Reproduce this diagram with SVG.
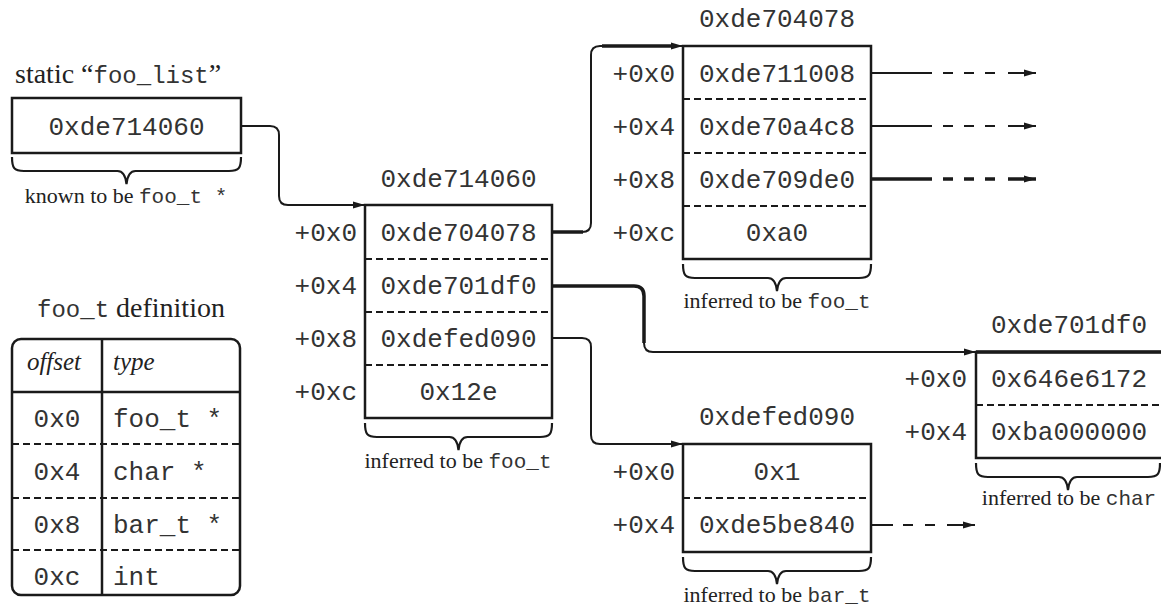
<svg xmlns="http://www.w3.org/2000/svg" width="1161" height="608" viewBox="0 0 1161 608">
<defs>
<style>
.box{fill:none;stroke:#1a1a1a;stroke-width:2.5}
.div{stroke:#1a1a1a;stroke-width:2;stroke-dasharray:7 4}
.sol{stroke:#1a1a1a;stroke-width:2.5}
.mono{font-family:"Liberation Mono","Courier New",monospace;font-size:26px;fill:#333}
.val{text-anchor:middle}
.off{text-anchor:end}
.lbl{font-family:"Liberation Serif","Times New Roman",serif;font-size:22px;fill:#222;text-anchor:middle}
.lm{font-family:"Liberation Mono","Courier New",monospace;font-size:21px;fill:#333}
.ttl{font-family:"Liberation Serif","Times New Roman",serif;font-size:28px;fill:#222}
.tm{font-family:"Liberation Mono","Courier New",monospace;font-size:24px;fill:#333}
.hdr{font-family:"Liberation Serif","Times New Roman",serif;font-size:25px;font-style:italic;fill:#222}
.brace{fill:none;stroke:#1a1a1a;stroke-width:2.2}
.conn{fill:none;stroke:#1a1a1a;stroke-width:2}
.thick{fill:none;stroke:#1a1a1a;stroke-width:3.5}
.arr{marker-end:url(#ah)}
</style>
<marker id="ah" markerUnits="userSpaceOnUse" markerWidth="12" markerHeight="8" viewBox="0 0 12 8" refX="12" refY="4" orient="auto">
<path d="M0,0.5 L12,4 L0,7.5 z" fill="#1a1a1a"/>
</marker>
</defs>
<rect width="1161" height="608" fill="#fff"/>

<g id="foo_list">
<text x="15" y="83" class="ttl">static “<tspan class="tm">foo_list</tspan>”</text>
<rect x="12" y="98" width="229" height="55" class="box"/>
<text x="126.5" y="135" class="mono val">0xde714060</text>
<path class="brace" d="M12,157 C12,168 14,171 24,171 L117.5,171 Q125,171 126.5,184 Q128,171 135.5,171 L229,171 C239,171 241,168 241,157"/>
<text x="126" y="203" class="lbl">known to be <tspan class="lm">foo_t *</tspan></text>
</g>

<g id="foo_t_definition">
<text x="131" y="317" class="ttl" text-anchor="middle"><tspan class="tm" font-size="23px">foo_t</tspan> definition</text>
<rect x="12" y="339" width="228" height="256" rx="9" class="box"/>
<line x1="102" y1="339" x2="102" y2="595" class="sol"/>
<line x1="12" y1="392" x2="240" y2="392" class="sol"/>
<line x1="12" y1="444" x2="240" y2="444" class="div"/>
<line x1="12" y1="498" x2="240" y2="498" class="div"/>
<line x1="12" y1="550" x2="240" y2="550" class="div"/>
<text x="54" y="370" class="hdr" text-anchor="middle">offset</text>
<text x="113" y="370" class="hdr">type</text>
<text x="57" y="427" class="mono val">0x0</text>
<text x="57" y="480" class="mono val">0x4</text>
<text x="57" y="533" class="mono val">0x8</text>
<text x="57" y="585" class="mono val">0xc</text>
<text x="113" y="427" class="mono">foo_t *</text>
<text x="113" y="480" class="mono">char *</text>
<text x="113" y="533" class="mono">bar_t *</text>
<text x="113" y="585" class="mono">int</text>
</g>

<g id="node_0xde714060">
<text x="458.5" y="187" class="mono val">0xde714060</text>
<rect x="365" y="205" width="187" height="213" class="box"/>
<line x1="365" y1="259" x2="552" y2="259" class="div"/>
<line x1="365" y1="312" x2="552" y2="312" class="div"/>
<line x1="365" y1="365" x2="552" y2="365" class="div"/>
<text x="458.5" y="241" class="mono val">0xde704078</text>
<text x="458.5" y="294" class="mono val">0xde701df0</text>
<text x="458.5" y="347" class="mono val">0xdefed090</text>
<text x="458.5" y="400" class="mono val">0x12e</text>
<text x="357" y="241" class="mono off">+0x0</text>
<text x="357" y="294" class="mono off">+0x4</text>
<text x="357" y="347" class="mono off">+0x8</text>
<text x="357" y="400" class="mono off">+0xc</text>
<path class="brace" d="M365,423 C365,434 367,437 377,437 L449.5,437 Q457,437 458.5,450 Q460,437 467.5,437 L540,437 C550,437 552,434 552,423"/>
<text x="458" y="468" class="lbl">inferred to be <tspan class="lm">foo_t</tspan></text>
</g>

<g id="node_0xde704078">
<text x="777" y="27" class="mono val">0xde704078</text>
<rect x="683" y="46" width="188" height="213" class="box"/>
<line x1="683" y1="99" x2="871" y2="99" class="div"/>
<line x1="683" y1="153" x2="871" y2="153" class="div"/>
<line x1="683" y1="206" x2="871" y2="206" class="div"/>
<text x="777" y="82" class="mono val">0xde711008</text>
<text x="777" y="135" class="mono val">0xde70a4c8</text>
<text x="777" y="188" class="mono val">0xde709de0</text>
<text x="777" y="241" class="mono val">0xa0</text>
<text x="675" y="82" class="mono off">+0x0</text>
<text x="675" y="135" class="mono off">+0x4</text>
<text x="675" y="188" class="mono off">+0x8</text>
<text x="675" y="241" class="mono off">+0xc</text>
<path class="brace" d="M683,264 C683,275 685,278 695,278 L768,278 Q775.5,278 777,291 Q778.5,278 786,278 L859,278 C869,278 871,275 871,264"/>
<text x="777" y="308" class="lbl">inferred to be <tspan class="lm">foo_t</tspan></text>
</g>

<g id="node_0xdefed090">
<text x="777" y="425" class="mono val">0xdefed090</text>
<rect x="683" y="444" width="188" height="108" class="box"/>
<line x1="683" y1="498" x2="871" y2="498" class="div"/>
<text x="777" y="480" class="mono val">0x1</text>
<text x="777" y="533" class="mono val">0xde5be840</text>
<text x="675" y="480" class="mono off">+0x0</text>
<text x="675" y="533" class="mono off">+0x4</text>
<path class="brace" d="M683,557 C683,568 685,571 695,571 L768,571 Q775.5,571 777,584 Q778.5,571 786,571 L859,571 C869,571 871,568 871,557"/>
<text x="777" y="602" class="lbl">inferred to be <tspan class="lm">bar_t</tspan></text>
</g>

<g id="node_0xde701df0">
<text x="1069" y="333" class="mono val">0xde701df0</text>
<rect x="976" y="352" width="200" height="106" class="box"/>
<line x1="976" y1="352" x2="1161" y2="352" class="thick"/>
<line x1="976" y1="405" x2="1161" y2="405" class="div"/>
<text x="1069" y="387" class="mono val">0x646e6172</text>
<text x="1069" y="440" class="mono val">0xba000000</text>
<text x="967" y="387" class="mono off">+0x0</text>
<text x="967" y="440" class="mono off">+0x4</text>
<path class="brace" d="M976,463 C976,474 978,477 988,477 L1059,477 Q1066.5,477 1068,490 Q1069.5,477 1077,477 L1148,477 C1158,477 1160,474 1160,463"/>
<text x="1069" y="505" class="lbl">inferred to be <tspan class="lm">char</tspan></text>
</g>

<g id="connectors">
<path class="conn arr" d="M241,126 H270 Q279,126 279,135 V196 Q279,205 288,205 H365"/>
<path class="conn arr" d="M552,232 H582 Q591,232 591,223 V55 Q591,46 600,46 H683"/>
<path class="thick" d="M552,232 H583"/>
<path class="thick" d="M602,46 H672"/>
<path class="conn arr" d="M552,286 H634 Q644,286 644,296 V343 Q644,352 653,352 H976"/>
<path class="thick" d="M552,286 H634 Q644,286 644,296 V343"/>
<path class="conn arr" d="M552,338 H582 Q591,338 591,347 V435 Q591,444 600,444 H683"/>
<line x1="871" y1="73" x2="1036" y2="73" class="conn arr" stroke-width="2.5" stroke-dasharray="61 11 10 11 10 11 10 13 100"/>
<line x1="871" y1="126" x2="1036" y2="126" class="conn arr" stroke-width="2.5" stroke-dasharray="61 11 10 11 10 11 10 13 100"/>
<line x1="871" y1="179" x2="1036" y2="179" class="conn arr" style="stroke-width:3.5" stroke-dasharray="61 11 10 11 10 11 10 13 100"/>
<line x1="871" y1="525" x2="975" y2="525" class="conn arr" stroke-dasharray="22 10 10 12 10 12 100"/>
</g>
</svg>
